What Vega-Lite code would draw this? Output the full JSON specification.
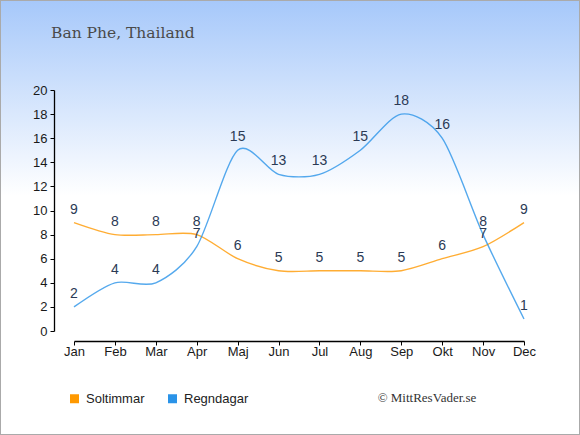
{
  "$schema": "https://vega.github.io/schema/vega-lite/v6.json",
  "width": 580,
  "height": 435,
  "padding": 0,
  "autosize": {"type": "none"},
  "background": "#FFFFFF",
  "view": {
    "fill": {"gradient": "linear", "x1": 0, "y1": 0, "x2": 0, "y2": 1,
      "stops": [{"offset": 0, "color": "#A6C8FA"}, {"offset": 0.45, "color": "#FFFFFF"}, {"offset": 1, "color": "#FFFFFF"}]},
    "stroke": "#AAAAAA",
    "strokeWidth": 2
  },
  "title": {
    "text": "Ban Phe, Thailand",
    "anchor": "start",
    "frame": "group",
    "font": "DejaVu Serif",
    "fontSize": 15.5,
    "fontWeight": "normal",
    "color": "#4A4A4A",
    "offset": 0,
    "dx": 51,
    "dy": 53,
    "baseline": "alphabetic"
  },
  "data": {
    "values": [
      {"month": "Jan", "series": "Soltimmar", "value": 9},
      {"month": "Feb", "series": "Soltimmar", "value": 8},
      {"month": "Mar", "series": "Soltimmar", "value": 8},
      {"month": "Apr", "series": "Soltimmar", "value": 8},
      {"month": "Maj", "series": "Soltimmar", "value": 6},
      {"month": "Jun", "series": "Soltimmar", "value": 5},
      {"month": "Jul", "series": "Soltimmar", "value": 5},
      {"month": "Aug", "series": "Soltimmar", "value": 5},
      {"month": "Sep", "series": "Soltimmar", "value": 5},
      {"month": "Okt", "series": "Soltimmar", "value": 6},
      {"month": "Nov", "series": "Soltimmar", "value": 7},
      {"month": "Dec", "series": "Soltimmar", "value": 9},
      {"month": "Jan", "series": "Regndagar", "value": 2},
      {"month": "Feb", "series": "Regndagar", "value": 4},
      {"month": "Mar", "series": "Regndagar", "value": 4},
      {"month": "Apr", "series": "Regndagar", "value": 7},
      {"month": "Maj", "series": "Regndagar", "value": 15},
      {"month": "Jun", "series": "Regndagar", "value": 13},
      {"month": "Jul", "series": "Regndagar", "value": 13},
      {"month": "Aug", "series": "Regndagar", "value": 15},
      {"month": "Sep", "series": "Regndagar", "value": 18},
      {"month": "Okt", "series": "Regndagar", "value": 16},
      {"month": "Nov", "series": "Regndagar", "value": 8},
      {"month": "Dec", "series": "Regndagar", "value": 1}
    ]
  },
  "encoding": {
    "x": {
      "field": "month",
      "type": "ordinal",
      "sort": ["Jan", "Feb", "Mar", "Apr", "Maj", "Jun", "Jul", "Aug", "Sep", "Okt", "Nov", "Dec"],
      "scale": {"type": "point", "range": [74, 524], "padding": 0},
      "axis": {
        "orient": "bottom",
        "offset": -94,
        "labelAngle": 0,
        "domainColor": "#000000",
        "domainWidth": 1.3,
        "tickColor": "#000000",
        "tickSize": 4,
        "labelPadding": 0,
        "labelFont": "Liberation Sans",
        "labelFontSize": 13,
        "labelColor": "#1A1A1A",
        "grid": false,
        "title": "© MittResVader.se",
        "titleFont": "Liberation Serif",
        "titleFontSize": 13,
        "titleFontWeight": "normal",
        "titleColor": "#333333",
        "titleX": 426.5,
        "titleY": 60,
        "titleAlign": "center",
        "titleBaseline": "alphabetic",
        "titleAnchor": "start"
      }
    },
    "y": {
      "field": "value",
      "type": "quantitative",
      "scale": {"domain": [0, 20], "range": [331, 90], "nice": false},
      "axis": {
        "orient": "left",
        "offset": -54,
        "values": [0, 2, 4, 6, 8, 10, 12, 14, 16, 18, 20],
        "domainColor": "#000000",
        "domainWidth": 1.3,
        "tickColor": "#000000",
        "tickSize": 4,
        "labelPadding": 3,
        "labelFont": "Liberation Sans",
        "labelFontSize": 13,
        "labelColor": "#1A1A1A",
        "grid": false,
        "title": null
      }
    }
  },
  "layer": [
    {
      "mark": {"type": "line", "interpolate": "cardinal", "tension": 0.15, "strokeWidth": 1.4, "opacity": 0.8},
      "encoding": {
        "color": {
          "field": "series",
          "type": "nominal",
          "sort": ["Soltimmar", "Regndagar"],
          "scale": {"domain": ["Soltimmar", "Regndagar"], "range": ["#FF9900", "#2A93E8"]},
          "legend": {
            "orient": "none",
            "legendX": 68,
            "legendY": 392,
            "direction": "horizontal",
            "title": null,
            "symbolType": "square",
            "symbolSize": 81,
            "symbolStrokeWidth": 0,
            "symbolOpacity": 1,
            "labelFont": "Liberation Sans",
            "labelFontSize": 13,
            "labelColor": "#222222",
            "labelOffset": 5,
            "columnPadding": 21,
            "encode": {
              "symbols": {"update": {"fill": {"scale": "color", "field": "value"}, "stroke": {"value": "transparent"}, "opacity": {"value": 1}}}
            }
          }
        }
      }
    },
    {
      "mark": {"type": "text", "dy": -9, "baseline": "alphabetic", "fontSize": 14, "font": "Liberation Sans", "color": "#2B3A55"},
      "encoding": {
        "text": {"field": "value", "type": "quantitative"},
        "detail": {"field": "series", "type": "nominal"}
      }
    }
  ]
}
